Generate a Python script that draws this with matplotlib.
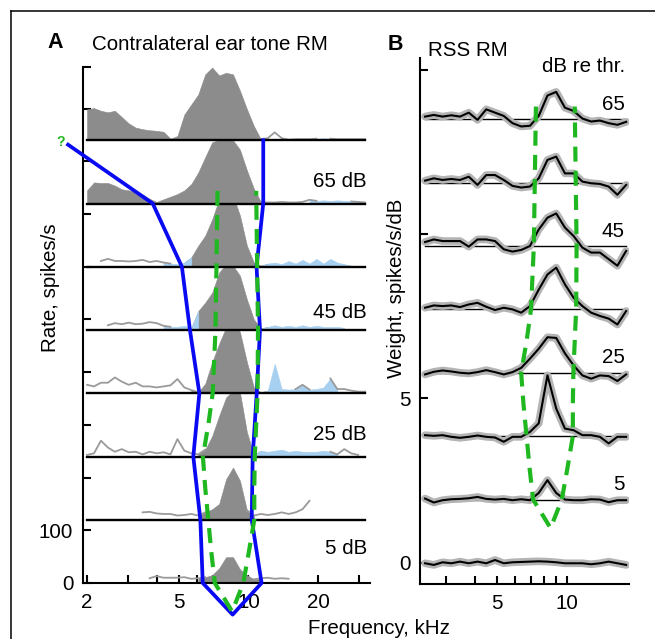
import numpy as np
import matplotlib
matplotlib.use("Agg")
import matplotlib.pyplot as plt
from matplotlib.lines import Line2D
from matplotlib.ticker import NullFormatter

plt.rcParams['font.family'] = ['Liberation Sans', 'DejaVu Sans']

nan = np.nan

# ---------------- Panel A: contralateral ear tone response map ----------------
freq_A = [round(2 * 2 ** (i / 10), 4) for i in range(41)]   # kHz, 1/10-octave grid
levels_A = [75, 65, 55, 45, 35, 25, 15, 5]                  # dB

rate_75 = [59, 61, 56, 53, 56, 44, 32, 24, 21, 19, 18, 16, 3, 8, 49, 68, 87, 125, 138, 123,
           128, 125, 94, 59, 27, 2, 4, 15, 4, 1, 2, 2, 2, 3, 4, 3, 2, 2, 2, 2, 2]
rate_65 = [25, 40, 39, 39, 34, 27, 25, 22, 17, 9, 3, 8, 13, 18, 25, 37, 59, 88, 116, 121,
           121, 120, 102, 63, 28, 3, 2, 2, 3, 2, 2, 3, 7, 5, 6, 5, 6, 5, 4, 3, 2]
rate_55 = [nan, nan, 11, 15, 11, 11, 10, 11, 13, 9, 11, 8, 6, 5, 8, 18, 40, 59, 90, 128,
           147, 135, 97, 40, 8, 2, 6, 8, 5, 11, 6, 13, 6, 15, 6, 15, 8, 5, 2, nan, nan]
rate_45 = [nan, nan, nan, 9, 13, 11, 14, 11, 12, 15, 13, 8, 6, 6, 8, 4, 36, 52, 71, 109,
           125, 122, 103, 58, 20, 3, 6, 9, 6, 8, 6, 9, 6, 8, 6, 6, 6, 4, nan, nan, nan]
rate_35 = [16, 13, 20, 20, 30, 22, 16, 20, 13, 13, 11, 13, 15, 27, 11, 6, 2, 18, 59, 94,
           125, 141, 116, 59, 11, 2, 5, 56, 8, 7, 8, 16, 7, 8, 11, 28, 8, 8, 5, 3, 3]
rate_25 = [3, 6, 30, 17, 9, 14, 8, 9, 4, 9, 6, 8, 4, 33, 11, 6, 4, 13, 39, 77,
           112, 125, 121, 46, 3, 11, 9, 11, 13, 9, 11, 9, 9, 9, 11, 9, 4, 14, 6, 3, nan]
rate_15 = [nan, nan, nan, nan, nan, nan, nan, nan, 14, 15, 12, 11, 11, 8, 9, 11, 8, 14, 20, 30,
           77, 99, 74, 18, 8, 11, 9, 11, 14, 11, 14, 20, 36, nan, nan, nan, nan, nan, nan, nan, nan]
rate_5 = [nan, nan, nan, nan, nan, nan, nan, nan, nan, 9, 13, 10, 10, 10, 11, 8, 9, 11, 15, 28,
          49, 49, 26, 15, 7, 9, 10, 8, 9, 8, nan, nan, nan, nan, nan, nan, nan, nan, nan, nan, nan]

# g = significant excitation (grey fill), b = suppression (blue fill), n = n.s. (grey line)
kind_75 = "g" * 26 + "n" * 7 + "b" * 3 + "n" * 5
kind_65 = "g" * 26 + "n" * 7 + "b" * 6 + "n" * 2
kind_55 = "." * 2 + "n" * 10 + "b" * 3 + "g" * 11 + "b" * 13 + "." * 2
kind_45 = "." * 3 + "n" * 9 + "b" * 4 + "g" * 10 + "b" * 12 + "." * 3
kind_35 = "n" * 16 + "g" * 10 + "b" * 5 + "n" + "b" * 4 + "n" * 5
kind_25 = "n" * 17 + "g" * 8 + "b" * 11 + "n" * 4 + "."
kind_15 = "." * 8 + "n" * 9 + "g" * 7 + "n" * 9 + "." * 8
kind_5 = "." * 9 + "n" * 8 + "g" * 8 + "n" * 5 + "." * 11

rates_A = [rate_75, rate_65, rate_55, rate_45, rate_35, rate_25, rate_15, rate_5]
kinds_A = [kind_75, kind_65, kind_55, kind_45, kind_35, kind_25, kind_15, kind_5]

# response-area boundary (blue) : level, low-freq edge, high-freq edge
blue_L = [65, 55, 45, 35, 25, 15, 5]
blue_lo = [3.85, 5.15, 5.58, 6.13, 5.77, 6.19, 6.34]
blue_hi_L = [75, 65, 55, 45, 35, 25, 15, 5]
blue_hi = [11.59, 11.59, 10.84, 11.22, 10.86, 10.43, 10.33, 11.40]
blue_start = (1.655, 74.3)
blue_tip = (8.54, 0.0)

# RSS-derived tuning boundary (green dashed), shared by A and B
green_L = [67, 45, 35, 30, 25, 20, 15, 10, 5]
green_lo = [7.35, 7.2, 7.0, 6.7, 6.35, 6.5, 6.7, 6.9, 7.15]
green_hi = [10.8, 11.0, 10.95, 10.8, 10.65, 10.6, 10.6, 10.05, 9.5]
green_tip = (8.5, 0.5)

# ---------------- Panel B: RSS response map weights ----------------
freq_B = [round(2.45 * 2 ** (k / 8), 4) for k in range(24)]  # kHz, 1/8-octave grid
levels_B = [65, 55, 45, 35, 25, 15, 5, -5]
w_65 = [0.08, 0.13, 0.08, 0.12, 0.08, 0.2, -0.02, 0.3, 0.2, 0.1, -0.12, -0.22, -0.2, 0.1,
        0.72, 0.83, 0.35, 0.25, 0.02, -0.07, -0.04, -0.12, -0.17, -0.08]
w_55 = [0.06, 0.13, 0.08, 0.11, 0.08, 0.18, -0.07, 0.23, 0.23, 0.08, -0.1, -0.15, -0.12, 0.13,
        0.69, 0.79, 0.28, 0.28, 0.03, -0.02, -0.04, -0.12, -0.37, -0.07]
w_45 = [0.12, 0.2, 0.15, 0.15, 0.15, -0.02, 0.2, 0.2, 0.15, -0.1, -0.17, -0.12, 0.0, 0.5,
        0.86, 0.99, 0.56, 0.3, -0.05, -0.2, -0.2, -0.4, -0.6, -0.15]
w_35 = [0.05, 0.12, 0.1, 0.12, 0.07, 0.15, 0.2, 0.08, -0.02, 0.05, 0.0, -0.1, 0.1, 0.6,
        1.06, 1.27, 0.76, 0.35, 0.1, -0.1, -0.2, -0.28, -0.46, -0.05]
w_25 = [-0.05, 0.03, 0.07, 0.04, 0.0, -0.02, 0.02, 0.08, 0.02, -0.05, 0.02, 0.15, 0.43, 0.73,
        1.08, 1.06, 0.59, 0.22, -0.08, -0.18, -0.08, -0.1, -0.25, -0.05]
w_15 = [0.03, 0.01, 0.03, -0.02, -0.05, -0.02, 0.02, -0.02, -0.04, -0.17, -0.02, -0.02, 0.13, 0.39,
        1.85, 0.84, 0.23, 0.18, 0.03, 0.03, -0.02, -0.22, -0.02, -0.02]
w_5 = [0.03, -0.09, -0.02, 0.01, 0.02, 0.04, 0.08, 0.02, 0.0, 0.02, -0.02, 0.01, -0.02, 0.2,
       0.59, 0.2, 0.0, -0.02, -0.02, 0.01, 0.0, -0.08, -0.02, -0.02]
w_m5 = [-0.01, -0.06, 0.02, -0.01, 0.04, -0.01, 0.04, -0.01, 0.09, -0.01, 0.02, 0.03, 0.04, 0.05,
        0.04, 0.02, -0.01, -0.01, -0.01, -0.04, -0.01, 0.04, -0.01, -0.06]
weights_B = [w_65, w_55, w_45, w_35, w_25, w_15, w_5, w_m5]

# ---------------- styling ----------------
GREY = '#8c8c8c'
LGREY = '#9a9a9a'
LBLUE = '#a6cff0'
BLUE = '#0a0af2'
GREEN = '#20b820'
FS = 14.8


def offA(L):
    return (L - 5) * 12.0          # 120 spikes/s per 10 dB


def offB(L):
    return (L + 5) * 0.1927        # stacking offset in weight units


def runs(kind, ch):
    out, i, n = [], 0, len(kind)
    while i < n:
        if kind[i] == ch:
            j = i
            while j + 1 < n and kind[j + 1] == ch:
                j += 1
            s = i - 1 if i > 0 and kind[i - 1] != '.' else i
            e = j + 1 if j + 1 < n and kind[j + 1] != '.' else j
            out.append((s, e))
            i = j + 1
        else:
            i += 1
    return out


W, H = 655, 639
fig = plt.figure(figsize=(W / 100, H / 100), dpi=100)


def fx(px):
    return px / W


def fy(py):
    return 1 - py / H


axA = fig.add_axes([fx(83), fy(583), fx(370) - fx(83), fy(67) - fy(583)])
axB = fig.add_axes([fx(420), fy(584), fx(629) - fx(420), fy(58) - fy(584)])

# ---- Panel A ----
fA = np.array(freq_A)
for L, r, k in zip(levels_A, rates_A, kinds_A):
    off = offA(L)
    y = off + np.array(r, float)
    for s, e in runs(k, 'g'):
        axA.fill_between(fA[s:e + 1], off, y[s:e + 1], facecolor=GREY, edgecolor=GREY,
                         lw=0.4, zorder=2)
    for s, e in runs(k, 'b'):
        axA.fill_between(fA[s:e + 1], off, y[s:e + 1], facecolor=LBLUE, edgecolor=LBLUE,
                         lw=0.4, zorder=2)
    for s, e in runs(k, 'n'):
        axA.plot(fA[s:e + 1], y[s:e + 1], color=LGREY, lw=1.3, zorder=2)
    if L > 5:
        axA.plot([freq_A[0], freq_A[-1]], [off, off], color='k', lw=1.7, zorder=3)

bx = [blue_start[0]] + blue_lo + [blue_tip[0]] + blue_hi[::-1]
by = ([offA(blue_start[1])] + [offA(L) for L in blue_L] + [offA(blue_tip[1])]
      + [offA(L) for L in blue_hi_L[::-1]])
axA.plot(bx, by, color=BLUE, lw=2.7, zorder=5, clip_on=False)

gx = green_lo + [green_tip[0]] + green_hi[::-1]
gL = green_L + [green_tip[1]] + green_L[::-1]
axA.plot(gx, [offA(L) for L in gL], color=GREEN, lw=3.0, ls=(0, (3.6, 2.2)),
         zorder=6, clip_on=False)
axA.text(1.53, 837, '?', color=GREEN, fontsize=10, fontweight='bold',
         ha='center', va='center', clip_on=False)

for L, dy in [(65, 41), (45, 34), (25, 41), (5, 65)]:
    axA.text(32.6, offA(L) + dy, f'{L} dB', ha='right', va='center', fontsize=FS)

axA.set_xscale('log')
axA.set_xlim(1.921, 33.6)
axA.set_ylim(0, 979)
axA.set_xticks([2, 5, 10, 20], ['2', '5', '10', '20'])
axA.set_xticks([3, 4, 6, 7, 8, 9, 30], minor=True)
axA.xaxis.set_minor_formatter(NullFormatter())
axA.set_yticks([0, 100], ['0', '100'])
axA.set_yticks([200, 300, 400, 500, 600, 700, 800, 900, 979], minor=True)

# ---- Panel B ----
fB = np.array(freq_B)
for L, w in zip(levels_B, weights_B):
    off = offB(L)
    y = off + np.array(w, float)
    if L > -5:
        axB.plot([freq_B[0], freq_B[-1]], [off, off], color='k', lw=1.0, zorder=1)
    axB.plot(fB, y, color='#b4b4b4', lw=5.5, zorder=2, solid_capstyle='round')
    axB.plot(fB, y, color='k', lw=1.5, zorder=3)

axB.plot(gx, [offB(L) for L in gL], color=GREEN, lw=3.0, ls=(0, (3.6, 2.2)),
         zorder=6, clip_on=False)

axB.text(17.8, 15.08, 'dB re thr.', ha='right', va='center', fontsize=FS)
for L in [65, 45, 25, 5]:
    axB.text(17.75, offB(L) + 0.45, f'{L}', ha='right', va='center', fontsize=FS)

axB.set_xscale('log')
axB.set_xlim(2.33, 18.49)
axB.set_ylim(-0.64, 15.35)
axB.set_xticks([5, 10], ['5', '10'])
axB.set_xticks([3, 4, 6, 7, 8, 9], minor=True)
axB.xaxis.set_minor_formatter(NullFormatter())
axB.set_yticks([0, 5], ['0', '5'])
axB.set_yticks([10, 15], minor=True)

for ax in (axA, axB):
    for sp in ('top', 'right'):
        ax.spines[sp].set_visible(False)
    for sp in ('left', 'bottom'):
        ax.spines[sp].set_linewidth(1.5)
    ax.tick_params(which='both', direction='in', length=6, width=1.5,
                   labelsize=FS, pad=7)
    ax.patch.set_alpha(0)

# ---- figure texts ----
fig.text(fx(55), fy(43), 'A', fontsize=15.5, fontweight='bold', ha='center', va='center')
fig.text(fx(92), fy(45), 'Contralateral ear tone RM', fontsize=FS, ha='left', va='center')
fig.text(fx(395), fy(44), 'B', fontsize=15.5, fontweight='bold', ha='center', va='center')
fig.text(fx(428), fy(50), 'RSS RM', fontsize=FS, ha='left', va='center')
fig.text(fx(50), fy(288), 'Rate, spikes/s', fontsize=FS, rotation=90, ha='center', va='center')
fig.text(fx(397), fy(288), 'Weight, spikes/s/dB', fontsize=FS, rotation=90,
         ha='center', va='center')
fig.text(fx(379), fy(628), 'Frequency, kHz', fontsize=FS, ha='center', va='center')

# frame
fig.add_artist(Line2D([fx(10.5), fx(10.5)], [0, fy(11)], color='k', lw=1.1))
fig.add_artist(Line2D([fx(10.5), 1], [fy(11), fy(11)], color='k', lw=1.1))

fig.savefig('out.png', dpi=100)
